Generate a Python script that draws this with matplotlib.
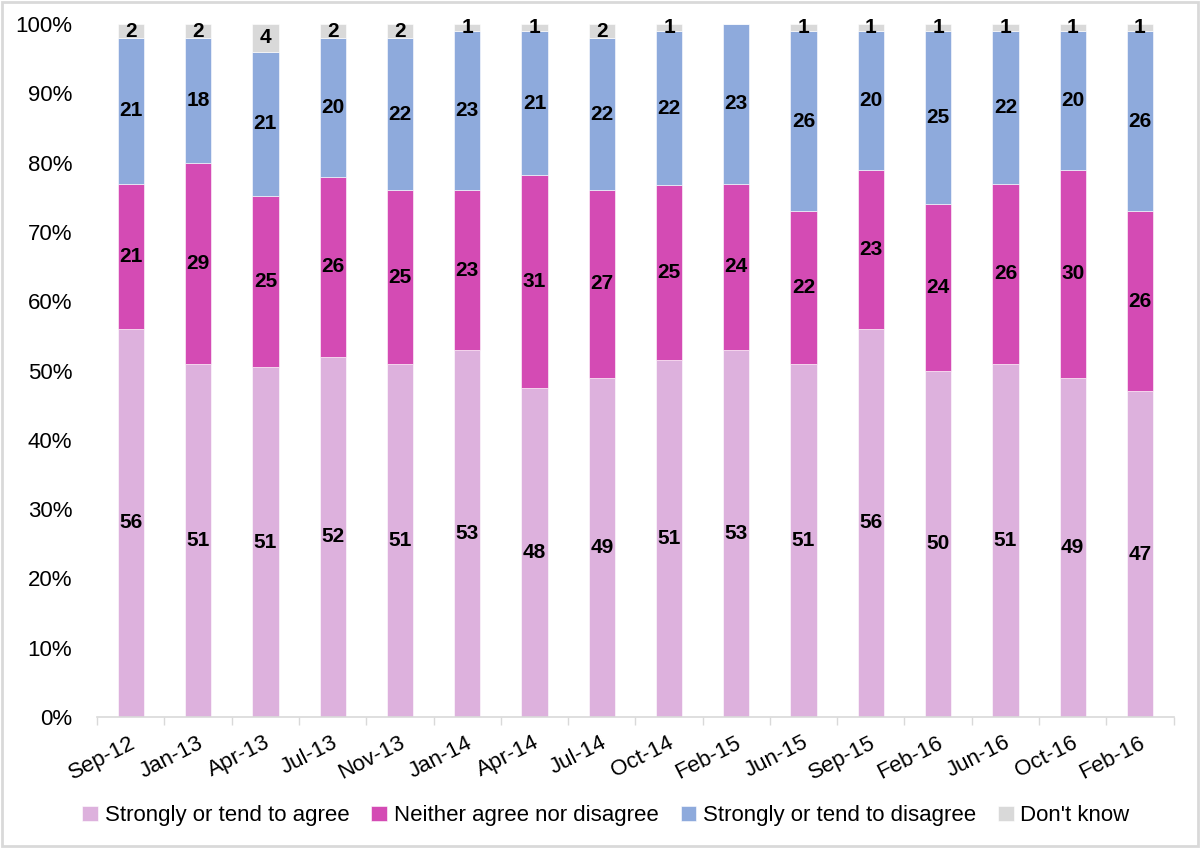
import numpy as np
import matplotlib
matplotlib.use("Agg")
from matplotlib import pyplot as plt
from matplotlib.patches import Rectangle

plt.rcParams["font.family"] = ["Liberation Sans", "DejaVu Sans"]

# survey waves
waves = ["Sep-12", "Jan-13", "Apr-13", "Jul-13", "Nov-13", "Jan-14", "Apr-14", "Jul-14",
         "Oct-14", "Feb-15", "Jun-15", "Sep-15", "Feb-16", "Jun-16", "Oct-16", "Feb-16"]

agree = [56, 51, 51, 52, 51, 53, 48, 49, 51, 53, 51, 56, 50, 51, 49, 47]
neither = [21, 29, 25, 26, 25, 23, 31, 27, 25, 24, 22, 23, 24, 26, 30, 26]
disagree = [21, 18, 21, 20, 22, 23, 21, 22, 22, 23, 26, 20, 25, 22, 20, 26]
dont_know = [2, 2, 4, 2, 2, 1, 1, 2, 1, 0, 1, 1, 1, 1, 1, 1]

series = [
    ("Strongly or tend to agree", agree, "#DDB1DD"),
    ("Neither agree nor disagree", neither, "#D44BB4"),
    ("Strongly or tend to disagree", disagree, "#8EAADC"),
    ("Don't know", dont_know, "#D9D9D9"),
]

fig = plt.figure(figsize=(12, 8.48), dpi=100)
ax = fig.add_axes([0.081, 0.1545, 0.897, 0.817])

x = np.arange(len(waves))
totals = np.sum([s[1] for s in series], axis=0)
bottom = np.zeros(len(waves))
for name, vals, color in series:
    vals = np.array(vals, dtype=float)
    h = vals / totals * 100
    ax.bar(x, h, 0.39, bottom=bottom, color=color, label=name,
           edgecolor="white", linewidth=0.4)
    for xi, b, hi, v in zip(x, bottom, h, vals):
        if v > 0:
            ax.text(xi, b + hi / 2, f"{int(v)}", ha="center", va="center",
                    fontsize=15, fontweight="bold", color="black")
    bottom += h

ax.set_xlim(-0.5, len(waves) - 0.5)
ax.set_ylim(0, 100)
ax.set_yticks(np.arange(0, 101, 10))
ax.set_yticklabels([f"{v}%" for v in range(0, 101, 10)], fontsize=16)
ax.tick_params(axis="y", length=0, pad=18)

ax.set_xticks(x - 0.02)
ax.set_xticklabels(waves, rotation=27, ha="right", rotation_mode="anchor", fontsize=16)
ax.set_xticks(np.arange(-0.5, len(waves), 1), minor=True)
ax.tick_params(axis="x", which="major", length=0, pad=11)
ax.tick_params(axis="x", which="minor", length=6, color="#D9D9D9", width=1)

for side in ["top", "right", "left"]:
    ax.spines[side].set_visible(False)
ax.spines["bottom"].set_color("#D9D9D9")
ax.spines["bottom"].set_linewidth(1.2)

fig.legend(loc="center", bbox_to_anchor=(0.505, 0.038), ncol=4, frameon=False,
           fontsize=16, handlelength=0.7, handleheight=0.7, handletextpad=0.3,
           columnspacing=1.0)

# chart border
fig.patches.append(Rectangle((0.002, 0.002), 0.996, 0.996, transform=fig.transFigure,
                             fill=False, edgecolor="#D9D9D9", linewidth=2))

fig.savefig("out.png", dpi=100)
